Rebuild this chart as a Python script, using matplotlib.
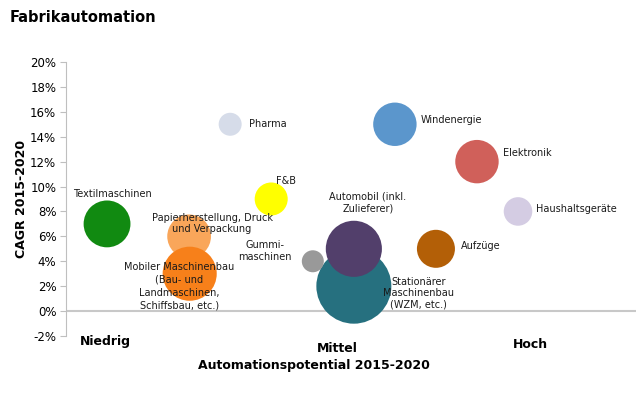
import numpy as np
import matplotlib.pyplot as plt

# Branchen, Automationspotential (x, 0..10), CAGR in %, Blasengröße (relativ)
branchen = ["Stationärer\nMaschinenbau\n(WZM, etc.)", "Automobil (inkl.\nZulieferer)",
            "Textilmaschinen", "Pharma", "F&B", "Papierherstellung, Druck\nund Verpackung",
            "Mobiler Maschinenbau\n(Bau- und\nLandmaschinen,\nSchiffsbau, etc.)",
            "Gummi-\nmaschinen", "Windenergie", "Elektronik", "Haushaltsgeräte", "Aufzüge"]
potential = [5.05, 5.05, 0.72, 2.88, 3.6, 2.16, 2.17, 4.33, 5.77, 7.21, 7.93, 6.49]
cagr = [2, 5, 7, 15, 9, 6, 3, 4, 15, 12, 8, 5]
groesse = [100, 56, 39, 9.4, 19.4, 34, 52, 8.6, 33.5, 33.5, 14.5, 25.7]

kategorien = ["Niedrig", "Mittel", "Hoch"]

farben = ["#26707f", "#523f6b", "#118a11", "#d6dce9", "#ffff00", "#f9a65a",
          "#f7801a", "#999999", "#5b96cc", "#d0605a", "#d4cce3", "#b35f07"]
# Label-Versatz in Pixeln, Ausrichtung
versatz = [(65, -7, "center"), (14, 46.5, "center"), (5, 29.5, "center"), (18.5, 0, "left"),
           (5, 18, "left"), (23, 13, "center"), (-10.5, -12.4, "center"), (-48, 10, "center"),
           (26, 4, "left"), (26, 8.6, "left"), (18, 2.4, "left"), (25, 2.7, "left")]


def main():
    plt.rcParams['font.family'] = ['DejaVu Sans']
    fig = plt.figure(figsize=(6.36, 3.94), dpi=100)
    ax = fig.add_axes([66 / 636, 58 / 394, 570 / 636, 274 / 394])

    # Radius in px proportional zu sqrt(groesse), max 37.5 px
    r = 37.5 * np.sqrt(np.array(groesse) / 100)
    s = (2 * r * 72 / 100) ** 2
    ax.scatter(potential, cagr, s=s, c=farben, linewidths=0, clip_on=False, zorder=3)

    for name, x, y, (dx, dy, ha) in zip(branchen, potential, cagr, versatz):
        ls = 1.35 if name.startswith("Mobiler") else 1.2
        ax.annotate(name, (x, y), xytext=(dx, dy), textcoords="offset pixels",
                    ha=ha, va="center", fontsize=7, color="#1a1a1a",
                    multialignment="center", linespacing=ls, zorder=4)

    ax.set_xlim(0, 10)
    ax.set_ylim(-2, 20)
    ax.set_yticks(np.arange(-2, 21, 2))
    ax.set_yticklabels(["%d%%" % v for v in range(-2, 21, 2)], fontsize=8.5)
    ax.set_xticks([])
    for side in ["top", "right", "bottom"]:
        ax.spines[side].set_visible(False)
    ax.spines["left"].set_color("#bfbfbf")
    ax.tick_params(axis="y", color="#bfbfbf", length=4, pad=3)
    ax.axhline(0, color="#c8c8c8", lw=1.5, zorder=1)

    for kat, px, py in zip(kategorien, [105, 337, 530], [342, 348, 344]):
        fig.text(px / 636, 1 - py / 394, kat, ha="center", va="center",
                 fontsize=9, fontweight="bold")

    fig.text(314 / 636, 1 - 366 / 394, "Automationspotential 2015-2020", ha="center",
             va="center", fontsize=9, fontweight="bold")
    fig.text(22 / 636, 1 - 199 / 394, "CAGR 2015-2020", ha="center", va="center",
             rotation=90, fontsize=9, fontweight="bold")
    fig.text(10 / 636, 1 - 17 / 394, "Fabrikautomation", ha="left", va="center",
             fontsize=10.5, fontweight="bold")

    fig.savefig("out.png", dpi=100)


if __name__ == "__main__":
    main()
